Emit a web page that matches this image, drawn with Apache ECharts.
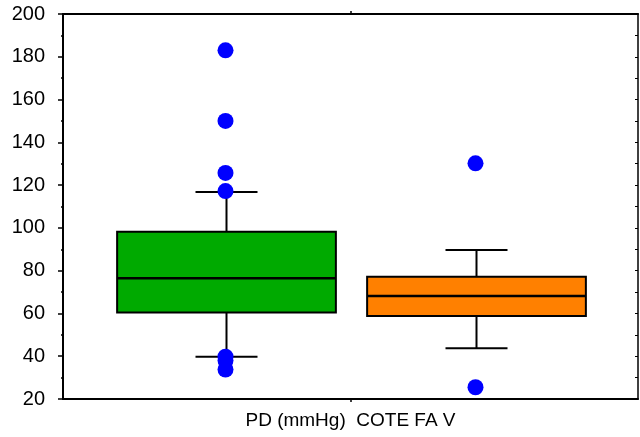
<!DOCTYPE html>
<html><head><meta charset="utf-8">
<script src="https://cdn.jsdelivr.net/npm/echarts@6/dist/echarts.min.js"></script>
<style>html,body{margin:0;padding:0;background:#fff}#c{width:640px;height:437px}</style>
</head><body><div id="c"></div>
<script>
// Data
var categoryLabel = 'PD (mmHg)  COTE FA V';
var groupPositions = [-1, 1];
var groupColors = ['#00aa00', '#ff8000'];
// [min whisker, Q1, median, Q3, max whisker]
var boxGreen = [39.8, 60.4, 76.4, 98.2, 116.8];
var boxOrange = [43.7, 58.8, 68.2, 77.2, 89.7];
var outliersGreen = [183, 150, 125.7, 117.2, 39.8, 38, 33.8];
var outliersOrange = [130.2, 25.5];
var yTicks = [20, 40, 60, 80, 100, 120, 140, 160, 180, 200];

var boxes = [boxGreen, boxOrange];
var boxData = boxes.map(function (b, i) { return [groupPositions[i]].concat(b).concat([i]); });
var outlierData = [];
outliersGreen.forEach(function (v) { outlierData.push([groupPositions[0], v]); });
outliersOrange.forEach(function (v) { outlierData.push([groupPositions[1], v]); });

var chart = echarts.init(document.getElementById('c'), null, {renderer: 'canvas'});
var font = '"Liberation Sans", Arial, sans-serif';
chart.setOption({
  animation: false,
  backgroundColor: '#fff',
  grid: {left: 63, right: 2, top: 14, bottom: 38, containLabel: false},
  xAxis: [{
    type: 'value', min: -2.3, max: 2.3, interval: 2.3, position: 'bottom',
    axisLine: {show: true, onZero: false, lineStyle: {color: '#000', width: 2}},
    axisTick: {show: true, inside: false, length: 3, customValues: [0], lineStyle: {color: '#000', width: 1.5}},
    axisLabel: {show: true, customValues: [0], margin: 12, color: '#000', fontSize: 19, fontFamily: font,
      formatter: function (v) { return Math.abs(v) < 1e-9 ? categoryLabel : ''; }},
    splitLine: {show: false}
  }, {
    type: 'value', min: -2.3, max: 2.3, interval: 2.3, position: 'top',
    axisLine: {show: true, onZero: false, lineStyle: {color: '#000', width: 2}},
    axisTick: {show: true, inside: false, length: 3, customValues: [0], lineStyle: {color: '#000', width: 1.5}},
    axisLabel: {show: false},
    splitLine: {show: false}
  }],
  yAxis: [{
    type: 'value', min: 20, max: 200, interval: 20, position: 'left',
    axisLine: {show: true, onZero: false, lineStyle: {color: '#000', width: 2}},
    axisTick: {show: true, inside: false, length: 5, lineStyle: {color: '#000', width: 1.5}},
    minorTick: {show: true, splitNumber: 2, length: 2, lineStyle: {color: '#000', width: 1.5}},
    axisLabel: {show: true, margin: 18, color: '#000', fontSize: 20, fontFamily: font,
      customValues: yTicks},
    splitLine: {show: false}, minorSplitLine: {show: false}
  }, {
    type: 'value', min: 20, max: 200, interval: 10, position: 'right',
    axisLine: {show: true, onZero: false, lineStyle: {color: '#000', width: 1.5}},
    axisTick: {show: true, inside: true, length: 3, lineStyle: {color: '#000', width: 1}},
    axisLabel: {show: false},
    splitLine: {show: false}
  }],
  series: [{
    type: 'custom',
    xAxisIndex: 0, yAxisIndex: 0,
    data: boxData,
    z: 2,
    renderItem: function (params, api) {
      var x = api.value(0);
      var unit = api.size([1, 0])[0];
      var halfBox = unit * 0.875;
      var halfCap = unit * 0.248;
      var pMin = api.coord([x, api.value(1)]);
      var pQ1 = api.coord([x, api.value(2)]);
      var pMed = api.coord([x, api.value(3)]);
      var pQ3 = api.coord([x, api.value(4)]);
      var pMax = api.coord([x, api.value(5)]);
      var cx = pMed[0] + 1;
      var color = groupColors[api.value(6)];
      var ls = {stroke: '#000', lineWidth: 2};
      return {
        type: 'group',
        children: [
          {type: 'line', shape: {x1: cx, y1: pQ3[1], x2: cx, y2: pMax[1]}, style: ls},
          {type: 'line', shape: {x1: cx, y1: pQ1[1], x2: cx, y2: pMin[1]}, style: ls},
          {type: 'line', shape: {x1: cx - halfCap, y1: pMax[1], x2: cx + halfCap, y2: pMax[1]}, style: ls},
          {type: 'line', shape: {x1: cx - halfCap, y1: pMin[1], x2: cx + halfCap, y2: pMin[1]}, style: ls},
          {type: 'rect', shape: {x: cx - halfBox, y: pQ3[1], width: 2 * halfBox, height: pQ1[1] - pQ3[1]},
            style: {fill: color, stroke: '#000', lineWidth: 2}},
          {type: 'line', shape: {x1: cx - halfBox, y1: pMed[1], x2: cx + halfBox, y2: pMed[1]},
            style: {stroke: '#000', lineWidth: 2.5}}
        ]
      };
    }
  }, {
    type: 'scatter',
    xAxisIndex: 0, yAxisIndex: 0,
    data: outlierData,
    symbol: 'circle', symbolSize: 16,
    itemStyle: {color: '#0000ff', opacity: 1},
    z: 3
  }]
});
</script></body></html>
